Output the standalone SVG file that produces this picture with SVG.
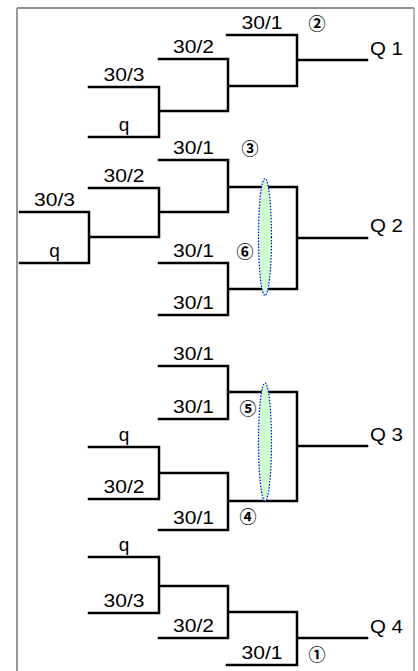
<svg xmlns="http://www.w3.org/2000/svg" width="418" height="671" viewBox="0 0 418 671">
<style>
.w{fill:none;stroke:#000;stroke-width:2.5;stroke-linecap:square}
.t{font-family:"Liberation Sans",Arial,sans-serif;font-size:19px;fill:#000;text-anchor:middle}
.q{font-family:"Liberation Sans",Arial,sans-serif;font-size:19px;fill:#000}
.c{font-family:"Noto Sans CJK JP","DejaVu Sans",sans-serif;font-size:17px;font-weight:bold;fill:#000;text-anchor:middle;dominant-baseline:central}
.e{fill:#ccffcc;stroke:#0000ff;stroke-width:1.2;stroke-dasharray:1.5 1.5}
</style>
<rect width="418" height="671" fill="#fff"/>
<g id="frame">
<path d="M17,8H414" stroke="#222" stroke-width="1.2" fill="none"/>
<path d="M17,8V671" stroke="#999" stroke-width="2" fill="none"/>
<path d="M414,8V671" stroke="#999" stroke-width="1.5" fill="none"/>
</g>
<g id="connectors">
<path class="w" d="M89,87H159M89,137H159M159,87V137M159,111H228M159,59H228M228,59V111M228,86H297M227,35H297M297,35V86M297,60H367"/>
<path class="w" d="M20,212H89M20,263H89M89,212V263M89,237H159M89,188H159M159,188V237M159,212H228M159,160H228M228,160V212M228,187H297M159,263H228M159,315H228M228,263V315M228,289H297M297,187V289M297,238H367"/>
<path class="w" d="M159,366H228M159,419H228M228,366V419M228,392H297M89,447H159M89,499H159M159,447V499M159,473H228M159,530H228M228,473V530M228,501H297M297,392V501M297,446H367"/>
<path class="w" d="M89,557H159M89,613H159M159,557V613M159,586H228M159,638H228M228,586V638M228,612H297M227,665H297M297,612V665M297,638H367"/>
</g>
<g id="q1">
<text class="t" x="262" y="29" textLength="41" lengthAdjust="spacingAndGlyphs">30/1</text>
<text class="t" x="193.5" y="53" textLength="41" lengthAdjust="spacingAndGlyphs">30/2</text>
<text class="t" x="124" y="81" textLength="41" lengthAdjust="spacingAndGlyphs">30/3</text>
<text class="t" x="124" y="131">q</text>
<text class="q" x="370" y="55" textLength="33" lengthAdjust="spacingAndGlyphs">Q 1</text>
<text class="c" x="317" y="22">②</text>
</g>
<g id="q2">
<text class="t" x="193.5" y="154" textLength="41" lengthAdjust="spacingAndGlyphs">30/1</text>
<text class="t" x="124" y="182" textLength="41" lengthAdjust="spacingAndGlyphs">30/2</text>
<text class="t" x="54.5" y="206" textLength="41" lengthAdjust="spacingAndGlyphs">30/3</text>
<text class="t" x="54.5" y="257">q</text>
<text class="t" x="193.5" y="257" textLength="41" lengthAdjust="spacingAndGlyphs">30/1</text>
<text class="t" x="193.5" y="309" textLength="41" lengthAdjust="spacingAndGlyphs">30/1</text>
<text class="q" x="370" y="232" textLength="33" lengthAdjust="spacingAndGlyphs">Q 2</text>
<text class="c" x="250" y="147">③</text>
<text class="c" x="245" y="250">⑥</text>
<ellipse class="e" cx="265" cy="237" rx="6.5" ry="58.5"/>
</g>
<g id="q3">
<text class="t" x="193.5" y="360" textLength="41" lengthAdjust="spacingAndGlyphs">30/1</text>
<text class="t" x="193.5" y="413" textLength="41" lengthAdjust="spacingAndGlyphs">30/1</text>
<text class="t" x="124" y="441">q</text>
<text class="t" x="124" y="493" textLength="41" lengthAdjust="spacingAndGlyphs">30/2</text>
<text class="t" x="193.5" y="524" textLength="41" lengthAdjust="spacingAndGlyphs">30/1</text>
<text class="q" x="370" y="441" textLength="33" lengthAdjust="spacingAndGlyphs">Q 3</text>
<text class="c" x="248" y="407">⑤</text>
<text class="c" x="248" y="515">④</text>
<ellipse class="e" cx="265" cy="442" rx="6.5" ry="59"/>
</g>
<g id="q4">
<text class="t" x="124" y="551">q</text>
<text class="t" x="124" y="607" textLength="41" lengthAdjust="spacingAndGlyphs">30/3</text>
<text class="t" x="193.5" y="632" textLength="41" lengthAdjust="spacingAndGlyphs">30/2</text>
<text class="t" x="262" y="659" textLength="41" lengthAdjust="spacingAndGlyphs">30/1</text>
<text class="q" x="370" y="633" textLength="33" lengthAdjust="spacingAndGlyphs">Q 4</text>
<text class="c" x="317" y="653">①</text>
</g>
</svg>
